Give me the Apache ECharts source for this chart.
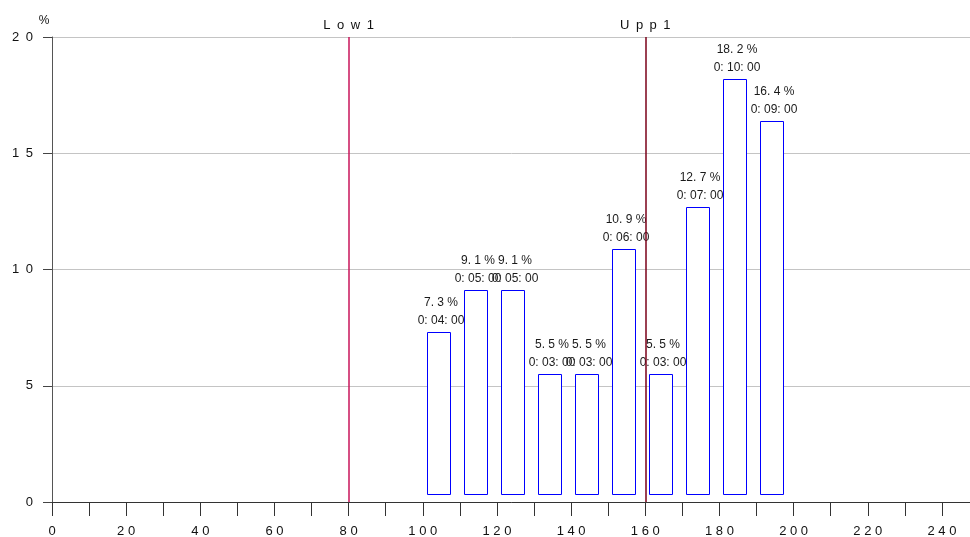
<!DOCTYPE html>
<html>
<head>
<meta charset="utf-8">
<script src="https://cdn.jsdelivr.net/npm/echarts@6/dist/echarts.min.js"></script>
<style>
  html, body { margin: 0; padding: 0; background: #fff; }
  #chart { width: 970px; height: 537px; }
</style>
</head>
<body>
<div id="chart"></div>
<script>
// Histogram bins (lower bound of each 10-unit class)
const binStarts = [100, 110, 120, 130, 140, 150, 160, 170, 180, 190];
// Share of total time per bin, in percent
const percents = [7.3, 9.1, 9.1, 5.5, 5.5, 10.9, 5.5, 12.7, 18.2, 16.4];
// Time spent per bin, in minutes
const minutes = [4, 5, 5, 3, 3, 6, 3, 7, 10, 9];
// Limit lines
const limitNames = ['Low1', 'Upp1'];
const limitValues = [80, 160];
const limitColors = ['#c8145a', '#7a0018'];

const FONT = '"Liberation Sans", Arial, Helvetica, sans-serif';
const BAR_OFFSET = 1;     // bar starts 1 unit after the bin lower bound
const BAR_WIDTH = 6.25;   // bar width in axis units
const BAR_FLOOR_PX = 8;   // bars float slightly above the baseline

const spaced = (s, sep) => String(s).split('').join(sep);
const pctText = v => v.toFixed(1).replace('.', '. ') + ' %';
const timeText = m => '0: ' + String(m).padStart(2, '0') + ': 00';

const data = binStarts.map((b, i) => [b, percents[i], minutes[i]]);

const chart = echarts.init(document.getElementById('chart'), null, { renderer: 'canvas' });

chart.setOption({
  animation: false,
  backgroundColor: '#ffffff',
  grid: {
    left: 52, top: 37, right: -9, bottom: 35,
    containLabel: false,
    outerBoundsMode: 'none'
  },
  xAxis: {
    type: 'value',
    min: 0, max: 250, interval: 10,
    axisLine: { show: true, lineStyle: { color: '#333', width: 1 } },
    axisTick: { show: true, length: 14, lineStyle: { color: '#333', width: 1 } },
    splitLine: { show: false },
    axisLabel: {
      margin: 23,
      color: '#111',
      fontFamily: FONT,
      fontSize: 13,
      formatter: v => (v % 20 === 0 ? spaced(v, ' ') : '')
    }
  },
  yAxis: {
    type: 'value',
    min: 0, max: 20, interval: 5,
    name: '%',
    nameLocation: 'end',
    nameGap: 10,
    nameTextStyle: { color: '#111', fontFamily: FONT, fontSize: 12, padding: [0, 16, 0, 0] },
    axisLine: { show: true, lineStyle: { color: '#555', width: 1 } },
    axisTick: { show: true, length: 9, lineStyle: { color: '#444', width: 1 } },
    splitLine: { show: true, lineStyle: { color: '#c4c4c4', width: 1 } },
    axisLabel: {
      margin: 19,
      color: '#111',
      fontFamily: FONT,
      fontSize: 13,
      formatter: v => spaced(v, '\u2002')
    }
  },
  series: [{
    type: 'custom',
    data: data,
    encode: { x: 0, y: 1 },
    clip: false,
    renderItem: (params, api) => {
      const b = api.value(0);
      const v = api.value(1);
      const m = api.value(2);
      const tl = api.coord([b + BAR_OFFSET, v]);
      const br = api.coord([b + BAR_OFFSET + BAR_WIDTH, 0]);
      const x0 = Math.round(tl[0]) + 0.5;
      const x1 = Math.round(br[0]) + 0.5;
      const yTop = Math.round(tl[1]) + 0.5;
      const yBot = Math.round(br[1] - BAR_FLOOR_PX) + 0.5;
      return {
        type: 'group',
        children: [
          {
            type: 'rect',
            shape: { x: x0, y: yTop, width: x1 - x0, height: yBot - yTop },
            style: { fill: '#ffffff', stroke: '#0000ff', lineWidth: 1 }
          },
          {
            type: 'text',
            style: {
              text: pctText(v) + '\n' + timeText(m),
              x: (x0 + x1) / 2 + 2,
              y: yTop - 2.5,
              align: 'center',
              verticalAlign: 'bottom',
              lineHeight: 18.5,
              font: '12px ' + FONT,
              fill: '#1a1a1a'
            }
          }
        ]
      };
    },
    markLine: {
      silent: true,
      symbol: ['none', 'none'],
      animation: false,
      data: limitValues.map((x, i) => ({
        xAxis: x,
        lineStyle: { color: limitColors[i], width: 1.5, type: 'solid' },
        label: {
          show: true,
          position: 'end',
          distance: 5,
          formatter: spaced(limitNames[i], '\u2002'),
          color: '#111',
          fontFamily: FONT,
          fontSize: 13
        }
      }))
    }
  }]
});
</script>
</body>
</html>
